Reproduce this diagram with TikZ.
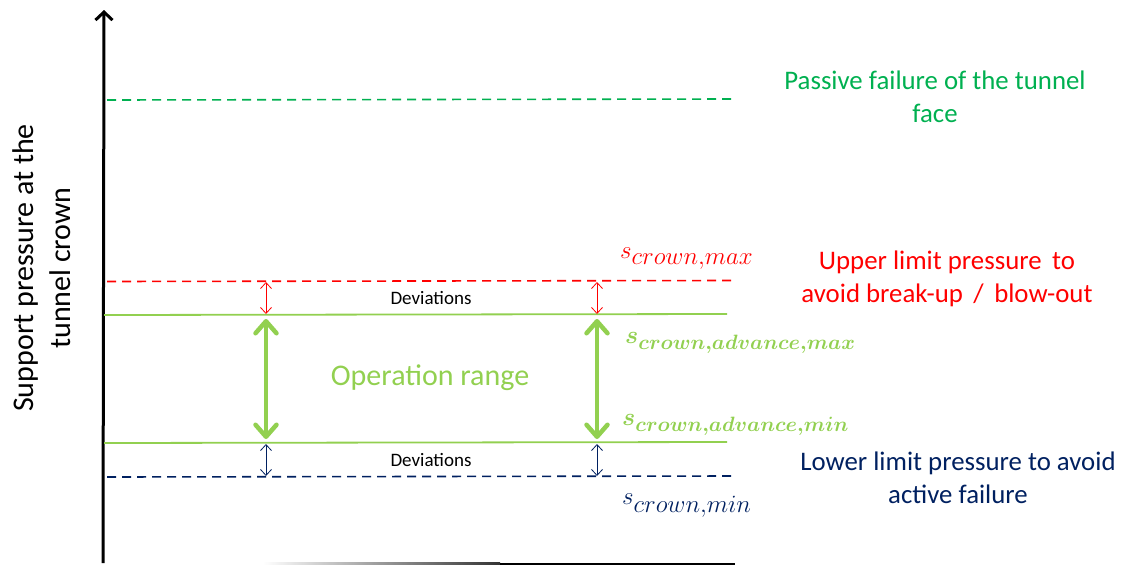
\documentclass[tikz,border=0pt]{standalone}
\usepackage{fontspec}
\setmainfont{Carlito}
\usetikzlibrary{arrows.meta}
\definecolor{pgreen}{RGB}{0,176,80}
\definecolor{lgreen}{RGB}{146,208,80}
\definecolor{pred}{RGB}{255,0,0}
\definecolor{navy}{RGB}{0,32,96}
\tikzset{
  dashline/.style={line width=1.6pt, dash pattern=on 9pt off 6pt},
  solidline/.style={line width=1.8pt, lgreen},
  devarrow/.style={line width=0.8pt, {Straight Barb[length=6pt,width=11pt]}-{Straight Barb[length=6pt,width=11pt]}},
  oparrow/.style={line width=4.5pt, lgreen, line cap=round, {Straight Barb[length=12pt,width=21pt,round]}-{Straight Barb[length=12pt,width=21pt,round]}},
  bigtext/.style={font=\fontsize{26.8}{33}\selectfont, align=center},
  devtext/.style={font=\fontsize{19}{22}\selectfont},
  symb/.style={anchor=base west, inner sep=0pt}
}
\newcommand{\symsub}[4]{\fontsize{32}{32}\selectfont$#1$\raisebox{#4}{\fontsize{#3}{#3}\selectfont$#2$}}
\begin{document}
\begin{tikzpicture}[x=1pt,y=-1pt]
\useasboundingbox (0,0) rectangle (1121,565);
% axis
\coordinate (ax0) at (103,563);
\coordinate (ax1) at (104,10);
\draw[line width=3pt, {Straight Barb[length=8pt,width=17pt]}-] (ax1) -- (ax0);
\shade[left color=white, right color=black!80] (263,562.5) rectangle (500,564.5);
\fill[black] (500,562.5) rectangle (735,564.5);
% lines
\coordinate (pa0) at (107,100); \coordinate (pa1) at (735,99);
\draw[dashline, pgreen] (pa0) -- (pa1);
\coordinate (up0) at (107,281.5); \coordinate (up1) at (735,280.5);
\draw[dashline, pred] (up0) -- (up1);
\coordinate (g10) at (104,315); \coordinate (g11) at (727,314);
\draw[solidline] (g10) -- (g11);
\coordinate (g20) at (104,443); \coordinate (g21) at (727,442);
\draw[solidline] (g20) -- (g21);
\coordinate (lo0) at (107,477); \coordinate (lo1) at (735,476);
\draw[dashline, navy] (lo0) -- (lo1);
% deviation arrows
\coordinate (dA1) at (266,282); \coordinate (dA2) at (266,314);
\coordinate (dB1) at (597,282); \coordinate (dB2) at (597,314);
\draw[devarrow, pred] (dA1) -- (dA2);
\draw[devarrow, pred] (dB1) -- (dB2);
\coordinate (dC1) at (266,444); \coordinate (dC2) at (266,476);
\coordinate (dD1) at (597,444); \coordinate (dD2) at (597,476);
\draw[devarrow, navy] (dC1) -- (dC2);
\draw[devarrow, navy] (dD1) -- (dD2);
% operation arrows
\coordinate (oA1) at (266,319); \coordinate (oA2) at (266,439);
\coordinate (oB1) at (597,319); \coordinate (oB2) at (597,439);
\draw[oparrow] (oA1) -- (oA2);
\draw[oparrow] (oB1) -- (oB2);
% texts
\node[devtext] (dev1) at (431,298) {Deviations};
\node[devtext] (dev2) at (431,460) {Deviations};
\node[font=\fontsize{30}{34}\selectfont, text=lgreen] (oprange) at (430,378) {Operation range};
\node[bigtext, text=pgreen] (passive) at (935,97) {Passive failure of the tunnel\\face};
\node[bigtext, text=pred] (upper) at (947,279) {Upper limit pressure\, to\\avoid break-up\, /\, blow-out};
\node[bigtext, text=navy] (lower) at (958,478) {Lower limit pressure to avoid\\active failure};
\node[symb, text=pred] (smax) at (620,258) {\symsub{s}{crown{,}max}{26}{-6pt}};
\node[symb, text=navy] (smin) at (622,504) {\symsub{s}{crown{,}min}{26}{-8pt}};
\node[symb, text=lgreen, font=\boldmath] (samax) at (625,343) {\symsub{s}{crown{,}advance{,}max}{22.8}{-6pt}};
\node[symb, text=lgreen, font=\boldmath] (samin) at (622,425) {\symsub{s}{crown{,}advance{,}min}{22.8}{-6pt}};
\node[rotate=90, font=\fontsize{30}{37}\selectfont, align=center] (ylab) at (42,268) {Support pressure at the\\tunnel crown};
\end{tikzpicture}
\end{document}
